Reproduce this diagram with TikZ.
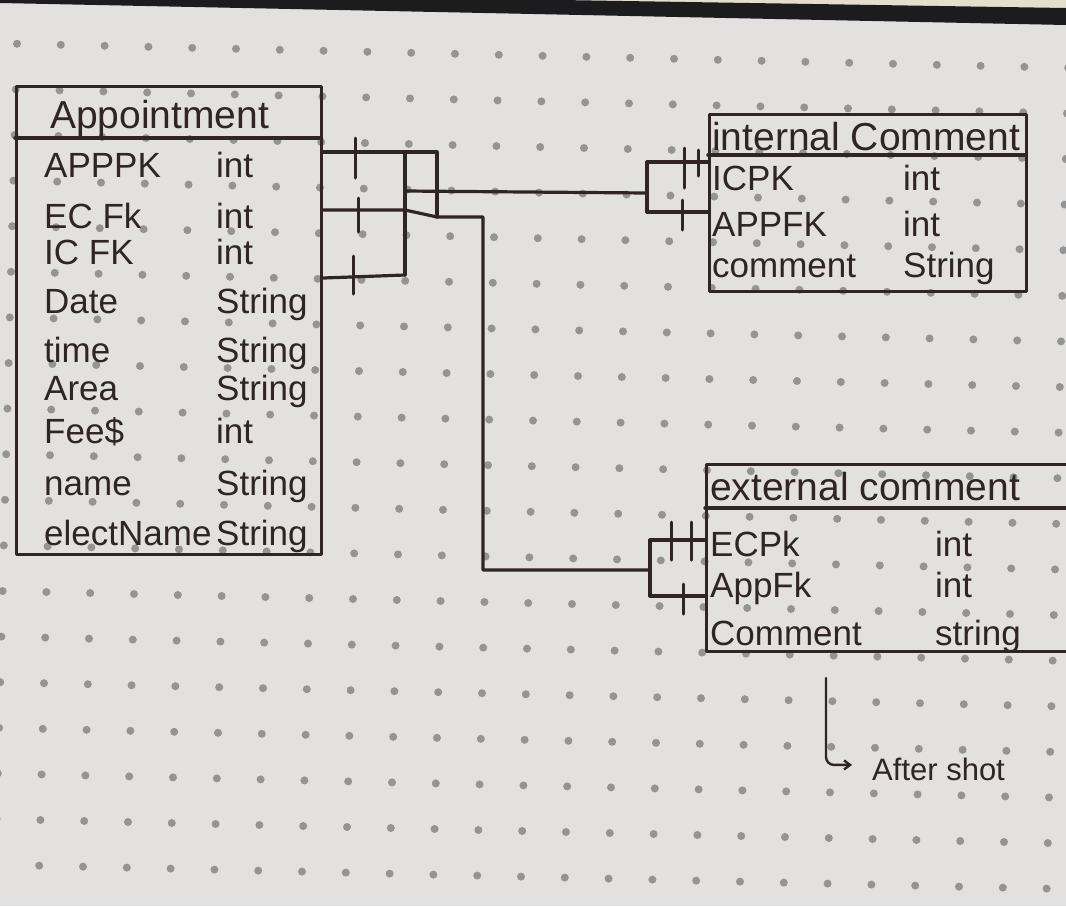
\documentclass[tikz,border=0pt]{standalone}
\usepackage{fontspec}
\setmainfont{Liberation Sans}
\usetikzlibrary{arrows.meta}
\definecolor{paper}{RGB}{226,225,224}
\definecolor{ink}{RGB}{48,36,36}
\definecolor{griddot}{RGB}{148,148,148}
\definecolor{coverband}{RGB}{28,28,30}
\definecolor{pagerim}{RGB}{228,222,205}
\begin{document}
\begin{tikzpicture}[x=1pt,y=-1pt,
  inkline/.style={draw=ink, line width=3.4pt, line cap=round, line join=round},
  tablebox/.style={inkline, anchor=north west, inner sep=0pt},
  tabletitle/.style={anchor=base west, text=ink, font=\fontsize{39}{41}\selectfont, inner sep=0pt},
  field/.style={anchor=base west, text=ink, font=\fontsize{35}{38}\selectfont, inner sep=0pt},
  tickmark/.style={inkline, line width=3pt},
  link/.style={inkline, line width=3.2pt},
]
\useasboundingbox (0,0) rectangle (1066,906);
\fill[paper] (0,0) rectangle (1066,906);
% notebook cover along the top
\fill[pagerim] (560,0) -- (1066,0) -- (1066,8) -- cycle;
\fill[coverband] (0,0) -- (560,0) -- (1066,8) -- (1066,25) -- (0,3) -- cycle;

% dot grid of the paper
\foreach \j in {-2,...,17}
  \foreach \i in {-9,...,17}
    \fill[griddot] ({365+43.8*\i-1.2*\j},{143+1.0*\i+45.6*\j}) circle (4pt);

% ---------- Appointment ----------
\node[tablebox, minimum width=305pt, minimum height=468pt] (appt) at (15,85) {};
\coordinate (apptRuleL) at (15,138);
\coordinate (apptRuleR) at (320,138);
\draw[inkline] (apptRuleL) -- (apptRuleR);
\node[tabletitle] (apptT) at (50,128) {Appointment};
\foreach \n/\t/\b [count=\k] in {APPPK/int/177, EC Fk/int/228, IC FK/int/264,
    Date/String/313, time/String/362, Area/String/400, Fee\$/int/443,
    name/String/495, electName/String/545}
{
  \node[field] (a\k) at (44,\b) {\n};
  \node[field] (at\k) at (216,\b) {\t};
}

% ---------- internal Comment ----------
\node[tablebox, minimum width=317pt, minimum height=177pt] (intc) at (708,113) {};
\coordinate (intcRuleL) at (708,155);
\coordinate (intcRuleR) at (1025,155);
\draw[inkline] (intcRuleL) -- (intcRuleR);
\node[tabletitle] (intcT) at (712,150) {internal Comment};
\foreach \n/\t/\b [count=\k] in {ICPK/int/190, APPFK/int/236, comment/String/277}
{
  \node[field] (i\k) at (712,\b) {\n};
  \node[field] (it\k) at (903,\b) {\t};
}

% ---------- external comment ----------
\node[tablebox, minimum width=380pt, minimum height=187pt] (extc) at (705,463) {};
\coordinate (extcRuleL) at (705,508);
\coordinate (extcRuleR) at (1085,508);
\draw[inkline] (extcRuleL) -- (extcRuleR);
\node[tabletitle] (extcT) at (710,500) {external comment};
\foreach \n/\t/\b [count=\k] in {ECPk/int/556, AppFk/int/597, Comment/string/645}
{
  \node[field] (e\k) at (710,\b) {\n};
  \node[field] (et\k) at (935,\b) {\t};
}

% ---------- relationship lines ----------
% junctions beside Appointment
\coordinate (jTop) at (405,152);
\coordinate (jMid) at (405,191);
\coordinate (jFk) at (405,210);
\coordinate (jBot) at (405,275);
\coordinate (jBoxR) at (437,152);
\coordinate (jBoxRB) at (437,217);
\coordinate (eTurn) at (483,217);
\coordinate (eDown) at (483,570);
% bracket before internal Comment
\coordinate (iTop) at (647,162);
\coordinate (iMid) at (647,193);
\coordinate (iBot) at (647,212);
% bracket before external comment
\coordinate (xTop) at (650,540);
\coordinate (xMid) at (650,570);
\coordinate (xBot) at (650,596);

\draw[link] (appt.east |- jTop) -- (jTop) -- (jBoxR) -- (jBoxRB);
\draw[link] (jTop) -- (jBot);
\draw[link] ([yshift=-3pt]appt.east |- jBot) -- (jBot);
\draw[link] (appt.east |- jFk) -- (jFk) -- (jBoxRB) -- (eTurn) -- (eDown) -- (xMid);
\draw[link] (jMid) -- (iMid);

\draw[link] (iTop) -- (iBot);
\draw[link] (iTop) -- (intc.west |- iTop);
\draw[link] (iBot) -- (intc.west |- iBot);

\draw[link] (xTop) -- (xBot);
\draw[link] (xTop) -- (extc.west |- xTop);
\draw[link] (xBot) -- (extc.west |- xBot);

% cardinality ticks
\draw[tickmark] (355,138) -- (355,178);
\draw[tickmark] (358,198) -- (358,232);
\draw[tickmark] (353,256) -- (353,294);
\draw[tickmark] (684,148) -- (684,188);
\draw[tickmark] (698,150) -- (698,176);
\draw[tickmark] (682,200) -- (682,230);
\draw[tickmark] (671,522) -- (671,560);
\draw[tickmark] (691,522) -- (691,560);
\draw[tickmark] (683,584) -- (683,614);

% note under external comment
\node[anchor=base west, text=ink, font=\fontsize{31}{33}\selectfont, inner sep=0pt] (note) at (872,780) {After shot};
\coordinate (noteStart) at (826,678);
\coordinate (noteTip) at ([xshift=-20pt,yshift=4pt]note.west);
\draw[link, line width=2.4pt, rounded corners=8pt, -{Straight Barb[length=6pt,width=9pt]}] (noteStart) |- (noteTip);
\end{tikzpicture}
\end{document}
